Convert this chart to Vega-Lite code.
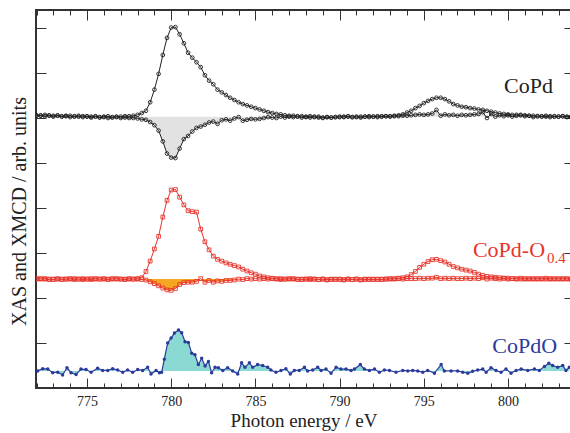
{
"$schema": "https://vega.github.io/schema/vega-lite/v6.json",
"width": 535, "height": 378, "autosize": "none",
"padding": {"left": 36, "top": 10, "right": 0, "bottom": 45},
"background": "white",
"config": {
 "font": "Liberation Serif, Times New Roman, DejaVu Serif, serif",
 "view": {"stroke": "#333", "strokeWidth": 2},
 "axis": {"domain": false, "grid": false, "tickColor": "#333", "tickWidth": 1, "labelColor": "#222", "titleColor": "#222", "labelFont": "Liberation Serif, Times New Roman, DejaVu Serif, serif", "titleFont": "Liberation Serif, Times New Roman, DejaVu Serif, serif", "labelFontSize": 14, "titleFontSize": 19, "titleFontWeight": "normal"},
 "text": {"font": "Liberation Serif, Times New Roman, DejaVu Serif, serif"}
},
"datasets": {
"main": [
{"x":772.00,"a":6.06,"b":6.05,"c":2.42,"d":2.43},
{"x":772.25,"a":6.05,"b":6.06,"c":2.43,"d":2.42},
{"x":772.50,"a":6.07,"b":6.04,"c":2.42,"d":2.43},
{"x":772.75,"a":6.06,"b":6.05,"c":2.41,"d":2.42},
{"x":773.00,"a":6.05,"b":6.03,"c":2.42,"d":2.41},
{"x":773.25,"a":6.06,"b":6.05,"c":2.42,"d":2.43},
{"x":773.50,"a":6.04,"b":6.03,"c":2.41,"d":2.42},
{"x":773.75,"a":6.05,"b":6.04,"c":2.42,"d":2.42},
{"x":774.00,"a":6.05,"b":6.02,"c":2.42,"d":2.43},
{"x":774.25,"a":6.03,"b":6.04,"c":2.43,"d":2.41},
{"x":774.50,"a":6.05,"b":6.03,"c":2.42,"d":2.42},
{"x":774.75,"a":6.04,"b":6.02,"c":2.41,"d":2.43},
{"x":775.00,"a":6.04,"b":6.03,"c":2.42,"d":2.42},
{"x":775.25,"a":6.03,"b":6.01,"c":2.43,"d":2.41},
{"x":775.50,"a":6.04,"b":6.03,"c":2.42,"d":2.43},
{"x":775.75,"a":6.02,"b":6.01,"c":2.42,"d":2.42},
{"x":776.00,"a":6.03,"b":6.02,"c":2.43,"d":2.42},
{"x":776.25,"a":6.04,"b":6.00,"c":2.42,"d":2.41},
{"x":776.50,"a":6.02,"b":6.01,"c":2.42,"d":2.43},
{"x":776.75,"a":6.03,"b":6.02,"c":2.43,"d":2.42},
{"x":777.00,"a":6.03,"b":6.00,"c":2.42,"d":2.42},
{"x":777.25,"a":6.04,"b":6.01,"c":2.42,"d":2.41},
{"x":777.50,"a":6.04,"b":6.00,"c":2.43,"d":2.42},
{"x":777.75,"a":6.05,"b":6.00,"c":2.42,"d":2.42},
{"x":778.00,"a":6.07,"b":5.99,"c":2.43,"d":2.42},
{"x":778.25,"a":6.11,"b":5.97,"c":2.45,"d":2.41},
{"x":778.50,"a":6.16,"b":5.96,"c":2.59,"d":2.40},
{"x":778.75,"a":6.35,"b":5.91,"c":2.82,"d":2.36},
{"x":779.00,"a":6.63,"b":5.84,"c":3.09,"d":2.32},
{"x":779.25,"a":6.98,"b":5.72,"c":3.37,"d":2.27},
{"x":779.50,"a":7.40,"b":5.48,"c":3.80,"d":2.22},
{"x":779.75,"a":7.78,"b":5.21,"c":4.17,"d":2.18},
{"x":780.00,"a":8.01,"b":5.12,"c":4.40,"d":2.17},
{"x":780.25,"a":8.02,"b":5.11,"c":4.41,"d":2.21},
{"x":780.50,"a":7.86,"b":5.32,"c":4.24,"d":2.30},
{"x":780.75,"a":7.66,"b":5.53,"c":4.07,"d":2.34},
{"x":781.00,"a":7.45,"b":5.60,"c":3.94,"d":2.35},
{"x":781.25,"a":7.34,"b":5.70,"c":3.92,"d":2.35},
{"x":781.50,"a":7.24,"b":5.78,"c":3.91,"d":2.37},
{"x":781.75,"a":7.13,"b":5.81,"c":3.53,"d":2.43},
{"x":782.00,"a":6.95,"b":5.85,"c":3.25,"d":2.35},
{"x":782.25,"a":6.83,"b":5.90,"c":3.07,"d":2.39},
{"x":782.50,"a":6.75,"b":5.92,"c":2.93,"d":2.35},
{"x":782.75,"a":6.63,"b":5.87,"c":2.86,"d":2.38},
{"x":783.00,"a":6.57,"b":5.95,"c":2.82,"d":2.37},
{"x":783.25,"a":6.51,"b":5.97,"c":2.78,"d":2.39},
{"x":783.50,"a":6.45,"b":5.94,"c":2.75,"d":2.39},
{"x":783.75,"a":6.40,"b":5.99,"c":2.72,"d":2.40},
{"x":784.00,"a":6.35,"b":6.02,"c":2.69,"d":2.42},
{"x":784.25,"a":6.31,"b":5.94,"c":2.64,"d":2.41},
{"x":784.50,"a":6.28,"b":5.96,"c":2.60,"d":2.43},
{"x":784.75,"a":6.25,"b":5.98,"c":2.56,"d":2.42},
{"x":785.00,"a":6.22,"b":5.97,"c":2.53,"d":2.43},
{"x":785.25,"a":6.19,"b":5.98,"c":2.49,"d":2.42},
{"x":785.50,"a":6.16,"b":6.00,"c":2.47,"d":2.43},
{"x":785.75,"a":6.13,"b":6.02,"c":2.45,"d":2.42},
{"x":786.00,"a":6.11,"b":6.01,"c":2.44,"d":2.43},
{"x":786.25,"a":6.09,"b":6.00,"c":2.43,"d":2.42},
{"x":786.50,"a":6.08,"b":6.03,"c":2.43,"d":2.41},
{"x":786.75,"a":6.06,"b":6.01,"c":2.42,"d":2.42},
{"x":787.00,"a":6.05,"b":6.03,"c":2.42,"d":2.43},
{"x":787.25,"a":6.05,"b":6.02,"c":2.43,"d":2.42},
{"x":787.50,"a":6.04,"b":6.03,"c":2.42,"d":2.41},
{"x":787.75,"a":6.04,"b":6.01,"c":2.41,"d":2.42},
{"x":788.00,"a":6.03,"b":6.02,"c":2.42,"d":2.42},
{"x":788.25,"a":6.04,"b":6.01,"c":2.41,"d":2.43},
{"x":788.50,"a":6.02,"b":6.03,"c":2.42,"d":2.42},
{"x":788.75,"a":6.03,"b":6.01,"c":2.41,"d":2.41},
{"x":789.00,"a":6.01,"b":6.00,"c":2.42,"d":2.42},
{"x":789.25,"a":6.02,"b":6.02,"c":2.40,"d":2.41},
{"x":789.50,"a":6.01,"b":6.01,"c":2.41,"d":2.42},
{"x":789.75,"a":6.02,"b":6.02,"c":2.42,"d":2.41},
{"x":790.00,"a":6.02,"b":6.03,"c":2.41,"d":2.42},
{"x":790.25,"a":6.03,"b":6.02,"c":2.40,"d":2.41},
{"x":790.50,"a":6.03,"b":6.04,"c":2.42,"d":2.42},
{"x":790.75,"a":6.02,"b":6.02,"c":2.41,"d":2.41},
{"x":791.00,"a":6.02,"b":6.03,"c":2.42,"d":2.42},
{"x":791.25,"a":6.03,"b":6.01,"c":2.40,"d":2.41},
{"x":791.50,"a":6.03,"b":6.03,"c":2.41,"d":2.42},
{"x":791.75,"a":6.04,"b":6.02,"c":2.42,"d":2.41},
{"x":792.00,"a":6.03,"b":6.03,"c":2.41,"d":2.42},
{"x":792.25,"a":6.04,"b":6.02,"c":2.42,"d":2.41},
{"x":792.50,"a":6.04,"b":6.03,"c":2.41,"d":2.42},
{"x":792.75,"a":6.04,"b":6.04,"c":2.42,"d":2.42},
{"x":793.00,"a":6.04,"b":6.03,"c":2.42,"d":2.43},
{"x":793.25,"a":6.05,"b":6.04,"c":2.43,"d":2.42},
{"x":793.50,"a":6.06,"b":6.04,"c":2.44,"d":2.43},
{"x":793.75,"a":6.08,"b":6.05,"c":2.45,"d":2.42},
{"x":794.00,"a":6.12,"b":6.05,"c":2.47,"d":2.43},
{"x":794.25,"a":6.16,"b":6.06,"c":2.52,"d":2.43},
{"x":794.50,"a":6.22,"b":6.07,"c":2.59,"d":2.43},
{"x":794.75,"a":6.27,"b":6.08,"c":2.68,"d":2.44},
{"x":795.00,"a":6.33,"b":6.07,"c":2.75,"d":2.43},
{"x":795.25,"a":6.38,"b":6.08,"c":2.81,"d":2.44},
{"x":795.50,"a":6.42,"b":6.10,"c":2.85,"d":2.44},
{"x":795.75,"a":6.45,"b":6.18,"c":2.86,"d":2.46},
{"x":796.00,"a":6.45,"b":6.05,"c":2.83,"d":2.43},
{"x":796.25,"a":6.42,"b":6.08,"c":2.80,"d":2.44},
{"x":796.50,"a":6.37,"b":6.06,"c":2.75,"d":2.43},
{"x":796.75,"a":6.31,"b":6.07,"c":2.70,"d":2.44},
{"x":797.00,"a":6.28,"b":6.05,"c":2.67,"d":2.43},
{"x":797.25,"a":6.25,"b":6.07,"c":2.64,"d":2.43},
{"x":797.50,"a":6.24,"b":6.06,"c":2.62,"d":2.44},
{"x":797.75,"a":6.22,"b":6.07,"c":2.60,"d":2.43},
{"x":798.00,"a":6.21,"b":6.08,"c":2.57,"d":2.44},
{"x":798.25,"a":6.19,"b":6.09,"c":2.53,"d":2.43},
{"x":798.50,"a":6.18,"b":6.13,"c":2.50,"d":2.45},
{"x":798.75,"a":6.16,"b":6.00,"c":2.48,"d":2.42},
{"x":799.00,"a":6.14,"b":6.09,"c":2.47,"d":2.44},
{"x":799.25,"a":6.12,"b":6.03,"c":2.46,"d":2.43},
{"x":799.50,"a":6.10,"b":6.06,"c":2.45,"d":2.42},
{"x":799.75,"a":6.09,"b":6.04,"c":2.44,"d":2.44},
{"x":800.00,"a":6.08,"b":6.06,"c":2.44,"d":2.42},
{"x":800.25,"a":6.07,"b":6.03,"c":2.43,"d":2.43},
{"x":800.50,"a":6.07,"b":6.05,"c":2.43,"d":2.42},
{"x":800.75,"a":6.06,"b":6.07,"c":2.42,"d":2.44},
{"x":801.00,"a":6.06,"b":6.04,"c":2.43,"d":2.42},
{"x":801.25,"a":6.05,"b":6.05,"c":2.42,"d":2.43},
{"x":801.50,"a":6.05,"b":6.02,"c":2.43,"d":2.42},
{"x":801.75,"a":6.04,"b":6.04,"c":2.42,"d":2.43},
{"x":802.00,"a":6.04,"b":6.03,"c":2.43,"d":2.42},
{"x":802.25,"a":6.03,"b":6.05,"c":2.42,"d":2.44},
{"x":802.50,"a":6.04,"b":6.02,"c":2.43,"d":2.42},
{"x":802.75,"a":6.03,"b":6.04,"c":2.42,"d":2.43},
{"x":803.00,"a":6.03,"b":6.03,"c":2.43,"d":2.42},
{"x":803.25,"a":6.04,"b":6.04,"c":2.42,"d":2.43},
{"x":803.50,"a":6.03,"b":6.02,"c":2.43,"d":2.42},
{"x":803.75,"a":6.03,"b":6.03,"c":2.42,"d":2.42}
],
"blue": [
{"x":772.07,"e":0.38},{"x":772.37,"e":0.43},{"x":772.67,"e":0.42},{"x":772.96,"e":0.34},{"x":773.26,"e":0.35},
{"x":773.55,"e":0.29},{"x":773.81,"e":0.45},{"x":774.05,"e":0.34},{"x":774.35,"e":0.30},{"x":774.64,"e":0.42},
{"x":774.94,"e":0.41},{"x":775.24,"e":0.35},{"x":775.63,"e":0.44},{"x":775.93,"e":0.39},{"x":776.23,"e":0.39},
{"x":776.52,"e":0.43},{"x":776.82,"e":0.40},{"x":777.12,"e":0.35},{"x":777.41,"e":0.40},{"x":777.71,"e":0.35},
{"x":778.01,"e":0.41},{"x":778.30,"e":0.39},{"x":778.60,"e":0.46},{"x":778.80,"e":0.31},{"x":779.10,"e":0.39},
{"x":779.30,"e":0.34},{"x":779.43,"e":0.35},{"x":779.59,"e":0.64},{"x":779.79,"e":1.00},{"x":779.99,"e":1.11},
{"x":780.19,"e":1.22},{"x":780.43,"e":1.29},{"x":780.62,"e":1.23},{"x":780.82,"e":1.03},{"x":781.02,"e":1.01},
{"x":781.22,"e":0.77},{"x":781.41,"e":0.74},{"x":781.61,"e":0.52},{"x":781.81,"e":0.66},{"x":782.01,"e":0.49},
{"x":782.21,"e":0.59},{"x":782.40,"e":0.34},{"x":782.60,"e":0.46},{"x":782.80,"e":0.45},{"x":783.06,"e":0.39},
{"x":783.35,"e":0.45},{"x":783.65,"e":0.38},{"x":783.95,"e":0.31},{"x":784.18,"e":0.56},{"x":784.38,"e":0.46},
{"x":784.64,"e":0.56},{"x":784.84,"e":0.46},{"x":785.13,"e":0.52},{"x":785.43,"e":0.50},{"x":785.73,"e":0.46},
{"x":785.92,"e":0.40},{"x":786.22,"e":0.35},{"x":786.52,"e":0.39},{"x":786.81,"e":0.43},{"x":787.07,"e":0.31},
{"x":787.31,"e":0.39},{"x":787.60,"e":0.39},{"x":787.91,"e":0.46},{"x":788.10,"e":0.38},{"x":788.40,"e":0.40},
{"x":788.70,"e":0.46},{"x":788.90,"e":0.39},{"x":789.19,"e":0.42},{"x":789.49,"e":0.33},{"x":789.79,"e":0.46},
{"x":790.08,"e":0.42},{"x":790.38,"e":0.42},{"x":790.68,"e":0.39},{"x":790.88,"e":0.42},{"x":791.23,"e":0.52},
{"x":791.47,"e":0.42},{"x":791.77,"e":0.39},{"x":792.07,"e":0.42},{"x":792.36,"e":0.35},{"x":792.66,"e":0.40},
{"x":792.96,"e":0.39},{"x":793.35,"e":0.35},{"x":793.75,"e":0.39},{"x":794.05,"e":0.38},{"x":794.34,"e":0.39},
{"x":794.64,"e":0.38},{"x":794.94,"e":0.35},{"x":795.23,"e":0.39},{"x":795.63,"e":0.33},{"x":796.03,"e":0.52},
{"x":796.22,"e":0.38},{"x":796.62,"e":0.38},{"x":797.01,"e":0.38},{"x":797.31,"e":0.35},{"x":797.61,"e":0.33},
{"x":797.90,"e":0.37},{"x":798.20,"e":0.40},{"x":798.50,"e":0.42},{"x":798.70,"e":0.35},{"x":798.99,"e":0.45},
{"x":799.29,"e":0.39},{"x":799.59,"e":0.35},{"x":799.88,"e":0.42},{"x":800.18,"e":0.33},{"x":800.48,"e":0.39},
{"x":800.78,"e":0.42},{"x":801.17,"e":0.39},{"x":801.57,"e":0.42},{"x":801.86,"e":0.39},{"x":802.16,"e":0.48},
{"x":802.42,"e":0.55},{"x":802.65,"e":0.50},{"x":802.95,"e":0.46},{"x":803.25,"e":0.50},{"x":803.44,"e":0.39},
{"x":803.64,"e":0.46}
]
},
"resolve": {"axis": {"x": "independent", "y": "independent"}},
"layer": [
{"data": {"name": "main"}, "mark": {"type": "area", "color": "#e2e2e2", "clip": true},
 "encoding": {
  "x": {"field": "x", "type": "quantitative", "scale": {"domain": [771.97, 803.74], "nice": false, "zero": false},
        "axis": {"orient": "bottom", "values": [775, 780, 785, 790, 795, 800], "tickSize": -10, "labelPadding": 16, "title": "Photon energy / eV", "titleY": 38, "titleBaseline": "alphabetic"}},
  "y": {"field": "b", "type": "quantitative", "scale": {"domain": [0, 8.4], "nice": false, "zero": false},
        "axis": {"orient": "left", "values": [0, 1, 2, 3, 4, 5, 6, 7, 8], "tickSize": -10, "labels": false, "title": "XAS and XMCD / arb. units", "titleX": -11, "titleY": 201, "titleBaseline": "alphabetic", "titleFontSize": 20}},
  "y2": {"datum": 6.03}}},
{"data": {"name": "main"}, "mark": {"type": "area", "color": "#f5a623", "clip": true},
 "encoding": {
  "x": {"field": "x", "type": "quantitative", "scale": {"domain": [771.97, 803.74], "nice": false, "zero": false}, "axis": null},
  "y": {"field": "d", "type": "quantitative", "scale": {"domain": [0, 8.4], "nice": false, "zero": false}, "axis": null},
  "y2": {"datum": 2.42}}},
{"data": {"name": "blue"}, "mark": {"type": "area", "color": "#8ad9d2", "clip": true},
 "encoding": {
  "x": {"field": "x", "type": "quantitative", "scale": {"domain": [771.97, 803.74], "nice": false, "zero": false}, "axis": null},
  "y": {"field": "e", "type": "quantitative", "scale": {"domain": [0, 8.4], "nice": false, "zero": false}, "axis": null},
  "y2": {"datum": 0.38}}},
{"data": {"name": "main"}, "mark": {"type": "line", "color": "#222", "strokeWidth": 1, "clip": true, "point": {"shape": "circle", "filled": false, "size": 14, "strokeWidth": 0.9, "color": "#222"}},
 "encoding": {
  "x": {"field": "x", "type": "quantitative", "scale": {"domain": [771.97, 803.74], "nice": false, "zero": false}, "axis": null},
  "y": {"field": "a", "type": "quantitative", "scale": {"domain": [0, 8.4], "nice": false, "zero": false}, "axis": null}}},
{"data": {"name": "main"}, "mark": {"type": "line", "color": "#222", "strokeWidth": 1, "clip": true, "point": {"shape": "circle", "filled": false, "size": 14, "strokeWidth": 0.9, "color": "#222"}},
 "encoding": {
  "x": {"field": "x", "type": "quantitative", "scale": {"domain": [771.97, 803.74], "nice": false, "zero": false}, "axis": null},
  "y": {"field": "b", "type": "quantitative", "scale": {"domain": [0, 8.4], "nice": false, "zero": false}, "axis": null}}},
{"data": {"name": "main"}, "mark": {"type": "line", "color": "#e8352c", "strokeWidth": 1, "clip": true, "point": {"shape": "square", "filled": false, "size": 14, "strokeWidth": 0.9, "color": "#e8352c"}},
 "encoding": {
  "x": {"field": "x", "type": "quantitative", "scale": {"domain": [771.97, 803.74], "nice": false, "zero": false}, "axis": null},
  "y": {"field": "c", "type": "quantitative", "scale": {"domain": [0, 8.4], "nice": false, "zero": false}, "axis": null}}},
{"data": {"name": "main"}, "mark": {"type": "line", "color": "#e8352c", "strokeWidth": 1, "clip": true, "point": {"shape": "square", "filled": false, "size": 14, "strokeWidth": 0.9, "color": "#e8352c"}},
 "encoding": {
  "x": {"field": "x", "type": "quantitative", "scale": {"domain": [771.97, 803.74], "nice": false, "zero": false}, "axis": null},
  "y": {"field": "d", "type": "quantitative", "scale": {"domain": [0, 8.4], "nice": false, "zero": false}, "axis": null}}},
{"data": {"name": "blue"}, "mark": {"type": "line", "color": "#2b3a9c", "strokeWidth": 1.2, "clip": true, "point": {"shape": "circle", "filled": true, "size": 12, "color": "#2b3a9c"}},
 "encoding": {
  "x": {"field": "x", "type": "quantitative", "scale": {"domain": [771.97, 803.74], "nice": false, "zero": false}, "axis": null},
  "y": {"field": "e", "type": "quantitative", "scale": {"domain": [0, 8.4], "nice": false, "zero": false}, "axis": null}}},
{"data": {"values": [{}]}, "mark": {"type": "text", "text": "CoPd", "font": "Liberation Serif, Times New Roman, DejaVu Serif, serif", "fontSize": 22, "align": "right", "baseline": "alphabetic", "color": "#222"},
 "encoding": {
  "x": {"datum": 802.67, "type": "quantitative", "scale": {"domain": [771.97, 803.74], "nice": false, "zero": false}, "axis": null},
  "y": {"datum": 6.556, "type": "quantitative", "scale": {"domain": [0, 8.4], "nice": false, "zero": false}, "axis": null}}},
{"data": {"values": [{}]}, "mark": {"type": "text", "text": "CoPd-O", "font": "Liberation Serif, Times New Roman, DejaVu Serif, serif", "fontSize": 22, "align": "right", "baseline": "alphabetic", "color": "#e8352c"},
 "encoding": {
  "x": {"datum": 802.2, "type": "quantitative", "scale": {"domain": [771.97, 803.74], "nice": false, "zero": false}, "axis": null},
  "y": {"datum": 2.911, "type": "quantitative", "scale": {"domain": [0, 8.4], "nice": false, "zero": false}, "axis": null}}},
{"data": {"values": [{}]}, "mark": {"type": "text", "text": "0.4", "font": "Liberation Serif, Times New Roman, DejaVu Serif, serif", "fontSize": 15, "align": "left", "baseline": "alphabetic", "color": "#e8352c"},
 "encoding": {
  "x": {"datum": 802.32, "type": "quantitative", "scale": {"domain": [771.97, 803.74], "nice": false, "zero": false}, "axis": null},
  "y": {"datum": 2.78, "type": "quantitative", "scale": {"domain": [0, 8.4], "nice": false, "zero": false}, "axis": null}}},
{"data": {"values": [{}]}, "mark": {"type": "text", "text": "CoPdO", "font": "Liberation Serif, Times New Roman, DejaVu Serif, serif", "fontSize": 22, "align": "right", "baseline": "alphabetic", "color": "#2b3a9c"},
 "encoding": {
  "x": {"datum": 802.91, "type": "quantitative", "scale": {"domain": [771.97, 803.74], "nice": false, "zero": false}, "axis": null},
  "y": {"datum": 0.778, "type": "quantitative", "scale": {"domain": [0, 8.4], "nice": false, "zero": false}, "axis": null}}},
{"data": {"values": [{}]}, "mark": {"type": "rule", "opacity": 0},
 "encoding": {
  "x": {"datum": 780, "type": "quantitative", "scale": {"domain": [771.97, 803.74], "nice": false, "zero": false},
        "axis": {"orient": "bottom", "values": [772,773,774,776,777,778,779,781,782,783,784,786,787,788,789,791,792,793,794,796,797,798,799,801,802,803], "tickSize": -5, "labels": false, "title": null}}}},
{"data": {"values": [{}]}, "mark": {"type": "rule", "opacity": 0},
 "encoding": {
  "x": {"datum": 780, "type": "quantitative", "scale": {"domain": [771.97, 803.74], "nice": false, "zero": false},
        "axis": {"orient": "top", "values": [775, 780, 785, 790, 795, 800], "tickSize": -10, "labels": false, "title": null}}}},
{"data": {"values": [{}]}, "mark": {"type": "rule", "opacity": 0},
 "encoding": {
  "x": {"datum": 780, "type": "quantitative", "scale": {"domain": [771.97, 803.74], "nice": false, "zero": false},
        "axis": {"orient": "top", "values": [772,773,774,776,777,778,779,781,782,783,784,786,787,788,789,791,792,793,794,796,797,798,799,801,802,803], "tickSize": -5, "labels": false, "title": null}}}},
{"data": {"values": [{}]}, "mark": {"type": "rule", "opacity": 0},
 "encoding": {
  "y": {"datum": 4, "type": "quantitative", "scale": {"domain": [0, 8.4], "nice": false, "zero": false},
        "axis": {"orient": "right", "values": [0, 1, 2, 3, 4, 5, 6, 7, 8], "tickSize": -7, "labels": false, "title": null}}}}
]
}
